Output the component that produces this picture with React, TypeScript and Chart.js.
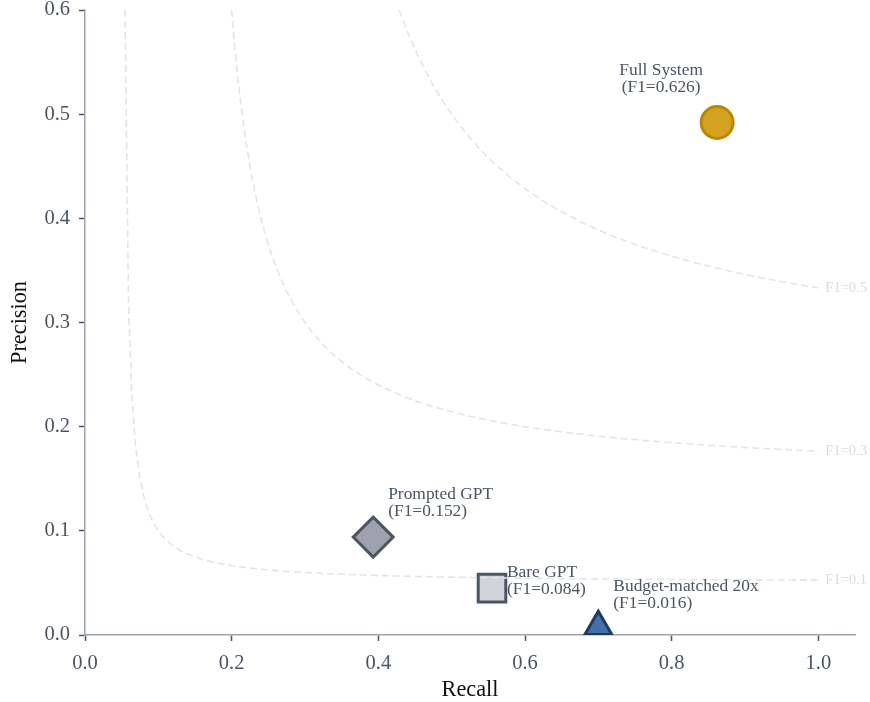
import React, { useEffect, useRef } from "react";
import { Chart, registerables } from "chart.js";

Chart.register(...registerables);

// Systems compared on the precision / recall plane
const systemNames = ["Full System", "Prompted GPT", "Bare GPT", "Budget-matched 20x"];
const recallValues = [0.862, 0.393, 0.555, 0.70];
const precisionValues = [0.492, 0.094, 0.045, 0.008];
const f1Scores = ["0.626", "0.152", "0.084", "0.016"];

// Iso-F1 reference levels
const isoF1Levels = [0.1, 0.3, 0.5];

const xTickValues = [0, 0.2, 0.4, 0.6, 0.8, 1.0];
const yTickValues = [0, 0.1, 0.2, 0.3, 0.4, 0.5, 0.6];

const pointStyles = ["circle", "rectRot", "rect", "triangle"];
const pointFills = ["#d4a21f", "#9ca3af", "#d1d5db", "#4470a8"];
const pointBorders = ["#b8860b", "#4b5563", "#4b5563", "#1e3a5f"];
const pointRadii = [16, 20, 19.5, 15.5];

const FONT = "'Liberation Serif', 'Times New Roman', serif";
const Y_MAX = 0.6;

// curve P = F*R / (2R - F), from the top of the plot out to R = 1
function isoCurve(f: number) {
  const rStart = (f * Y_MAX) / (2 * Y_MAX - f);
  const pts: { x: number; y: number }[] = [];
  const n = 200;
  for (let i = 0; i <= n; i++) {
    const r = rStart + ((1 - rStart) * i) / n;
    pts.push({ x: r, y: (f * r) / (2 * r - f) });
  }
  return pts;
}

// label placement relative to each marker: [dx, dy of first line, align]
const labelPlacement: [number, number, CanvasTextAlign][] = [
  [-56, -52, "center"],
  [15, -43, "left"],
  [15, -16, "left"],
  [15, -40, "left"],
];

const annotationPlugin = {
  id: "annotations",
  afterDatasetsDraw(chart: any) {
    const { ctx, scales } = chart;
    const xs = scales.x;
    const ys = scales.y;
    ctx.save();
    // iso-F1 curve labels
    ctx.font = `14.5px ${FONT}`;
    ctx.fillStyle = "#d9dce1";
    ctx.textAlign = "left";
    ctx.textBaseline = "middle";
    isoF1Levels.forEach((f) => {
      const p = f / (2 - f);
      ctx.fillText(`F1=${f}`, xs.getPixelForValue(1) + 7, ys.getPixelForValue(p));
    });
    // system labels
    ctx.font = `17.4px ${FONT}`;
    ctx.fillStyle = "#4b5563";
    ctx.textBaseline = "middle";
    systemNames.forEach((name, i) => {
      const px = xs.getPixelForValue(recallValues[i]);
      const py = ys.getPixelForValue(precisionValues[i]);
      const [dx, dy, align] = labelPlacement[i];
      ctx.textAlign = align;
      ctx.fillText(name, px + dx, py + dy);
      ctx.fillText(`(F1=${f1Scores[i]})`, px + dx, py + dy + 17);
    });
    ctx.restore();
  },
};

export default function App() {
  const canvasRef = useRef<HTMLCanvasElement | null>(null);

  useEffect(() => {
    if (!canvasRef.current) return;
    const curveSets = isoF1Levels.map((f) => ({
      type: "scatter" as const,
      label: `F1=${f}`,
      data: isoCurve(f),
      showLine: true,
      borderColor: "#e3e4ea",
      borderWidth: 1.6,
      borderDash: [7, 4],
      pointRadius: 0,
      pointHoverRadius: 0,
      fill: false,
    }));
    const pointSet = {
      type: "scatter" as const,
      label: "Systems",
      data: recallValues.map((r, i) => ({ x: r, y: precisionValues[i] })),
      pointStyle: pointStyles as any,
      pointRadius: pointRadii,
      pointBackgroundColor: pointFills,
      pointBorderColor: pointBorders,
      pointBorderWidth: 3,
      showLine: false,
      clip: 0,
    };

    const tickFont = { family: FONT, size: 20.5 };
    const titleFont = { family: FONT, size: 22.3, lineHeight: 1.1 };

    const chart = new Chart(canvasRef.current, {
      type: "scatter",
      data: { datasets: [...curveSets, pointSet] as any },
      options: {
        animation: false,
        responsive: false,
        maintainAspectRatio: false,
        layout: { autoPadding: false, padding: { top: 0, right: 15, left: 0, bottom: 0 } },
        plugins: {
          legend: { display: false },
          tooltip: { enabled: false },
        },
        scales: {
          x: {
            type: "linear",
            min: 0,
            max: 1.05,
            afterBuildTicks: (s: any) => {
              s.ticks = xTickValues.map((v) => ({ value: v }));
            },
            afterFit: (s: any) => {
              s.height = 67;
              s.paddingLeft = 0;
              s.paddingRight = 0;
            },
            ticks: {
              font: tickFont,
              color: "#4b5563",
              padding: 10,
              maxRotation: 0,
              callback: (v: any) => Number(v).toFixed(1),
            },
            grid: {
              drawOnChartArea: false,
              drawTicks: true,
              tickLength: 6,
              tickColor: "#4b5563",
              tickWidth: 1.5,
            },
            border: { color: "#9ca3af", width: 1.5 },
            title: {
              display: true,
              text: "Recall",
              font: titleFont,
              color: "#111111",
              padding: { top: 0, bottom: 0 },
            },
          },
          y: {
            type: "linear",
            min: 0,
            max: Y_MAX,
            afterBuildTicks: (s: any) => {
              s.ticks = yTickValues.map((v) => ({ value: v }));
            },
            afterFit: (s: any) => {
              s.width = 85;
              s.paddingTop = 10;
              s.paddingBottom = 0;
            },
            ticks: {
              font: tickFont,
              color: "#4b5563",
              padding: 9,
              callback: (v: any) => Number(v).toFixed(1),
            },
            grid: {
              drawOnChartArea: false,
              drawTicks: true,
              tickLength: 6,
              tickColor: "#4b5563",
              tickWidth: 1.5,
            },
            border: { color: "#9ca3af", width: 1.5 },
            title: {
              display: true,
              text: "Precision",
              font: titleFont,
              color: "#111111",
              padding: { top: 8, bottom: 0 },
            },
          },
        },
      },
      plugins: [annotationPlugin],
    });
    return () => chart.destroy();
  }, []);

  return (
    <div style={{ position: "fixed", left: 0, top: 0, width: 870, height: 702, background: "#ffffff" }}>
      <canvas ref={canvasRef} width={870} height={702} style={{ width: 870, height: 702 }} />
    </div>
  );
}
